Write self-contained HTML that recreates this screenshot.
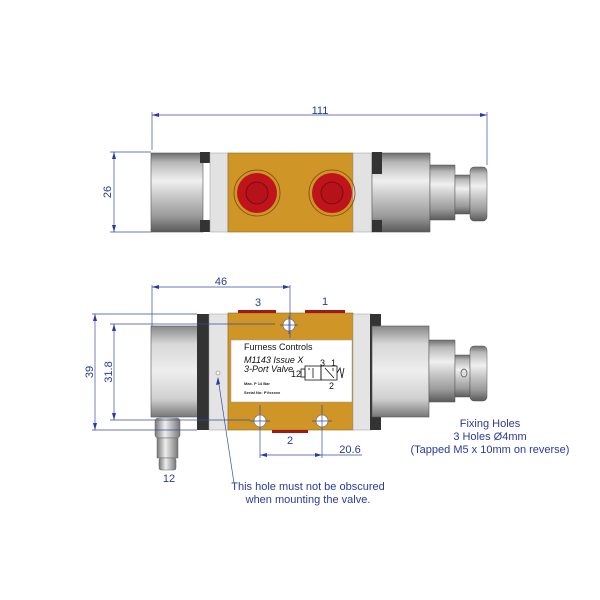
<!DOCTYPE html>
<html><head><meta charset="utf-8"><style>
html,body{margin:0;padding:0;background:#fff}
svg{display:block}
text{font-family:"Liberation Sans",sans-serif}
</style></head><body>
<svg width="600" height="600" viewBox="0 0 600 600" xmlns="http://www.w3.org/2000/svg">
<defs>
<linearGradient id="cyl" x1="0" y1="0" x2="0" y2="1">
<stop offset="0" stop-color="#6e6e6e"/><stop offset="0.12" stop-color="#b8b8b8"/><stop offset="0.35" stop-color="#f0f0f0"/><stop offset="0.55" stop-color="#c8c8c8"/><stop offset="0.8" stop-color="#9a9a9a"/><stop offset="1" stop-color="#5a5a5a"/>
</linearGradient>
<linearGradient id="lcyl" x1="0" y1="0" x2="0" y2="1">
<stop offset="0" stop-color="#888"/><stop offset="0.2" stop-color="#d8d8d8"/><stop offset="0.5" stop-color="#eeeeee"/><stop offset="0.8" stop-color="#d0d0d0"/><stop offset="1" stop-color="#777"/>
</linearGradient>
<linearGradient id="fit" x1="0" y1="0" x2="1" y2="0">
<stop offset="0" stop-color="#777"/><stop offset="0.4" stop-color="#eee"/><stop offset="1" stop-color="#777"/>
</linearGradient>
</defs>

<!-- TOP VIEW -->
<g>
<rect x="151" y="153" width="52" height="79" fill="url(#cyl)" stroke="#555" stroke-width="0.6"/>
<rect x="200" y="152" width="10" height="11" fill="#333"/>
<rect x="200" y="220" width="10" height="12" fill="#333"/>
<rect x="210" y="153" width="18" height="79" fill="#e2e2e2" stroke="#999" stroke-width="0.5"/>
<rect x="228" y="153" width="125" height="79" fill="#cf9526" stroke="#8a6a20" stroke-width="0.6"/>
<rect x="353" y="153" width="19" height="79" fill="#e2e2e2" stroke="#999" stroke-width="0.5"/>
<rect x="372" y="153" width="58" height="79" fill="url(#cyl)" stroke="#555" stroke-width="0.6"/>
<rect x="372" y="152" width="10" height="22" fill="#333"/>
<rect x="372" y="220" width="10" height="12" fill="#333"/>
<rect x="430" y="165" width="25" height="55" fill="url(#cyl)" stroke="#555" stroke-width="0.5"/>
<rect x="455" y="175" width="15" height="39" fill="url(#cyl)" stroke="#555" stroke-width="0.5"/>
<rect x="470" y="167" width="17" height="54" rx="4" fill="url(#cyl)" stroke="#555" stroke-width="0.5"/>
<circle cx="257" cy="193" r="23" fill="none" stroke="#7a4a10" stroke-width="0.8"/>
<circle cx="257" cy="193" r="20" fill="#c0141c"/>
<circle cx="257" cy="193" r="11" fill="#b5121a" stroke="#6a0a0a" stroke-width="0.8"/>
<circle cx="332" cy="193" r="23" fill="none" stroke="#7a4a10" stroke-width="0.8"/>
<circle cx="332" cy="193" r="20" fill="#c0141c"/>
<circle cx="332" cy="193" r="11" fill="#b5121a" stroke="#6a0a0a" stroke-width="0.8"/>
</g>
<!-- dims top -->
<g stroke="#3a4aa0" stroke-width="0.7" fill="none">
<line x1="152" y1="112" x2="152" y2="150"/>
<line x1="487" y1="112" x2="487" y2="165"/>
<line x1="152" y1="115" x2="487" y2="115"/>
<line x1="110" y1="152" x2="151" y2="152"/>
<line x1="110" y1="232" x2="151" y2="232"/>
<line x1="114" y1="152" x2="114" y2="232"/>
</g>
<g fill="#2a3aa0">
<polygon points="152,115 159,113 159,117"/><polygon points="487,115 480,113 480,117"/>
<polygon points="114,152 112,159 116,159"/><polygon points="114,232 112,225 116,225"/>
</g>
<text x="320" y="114" font-size="11" fill="#2a3a9a" text-anchor="middle">111</text>
<text x="0" y="0" font-size="11" fill="#2a3a9a" text-anchor="middle" transform="translate(111,192) rotate(-90)">26</text>

<!-- BOTTOM VIEW -->
<g>
<rect x="151" y="326" width="48" height="91" fill="url(#lcyl)" stroke="#555" stroke-width="0.6"/>
<rect x="197" y="314" width="12" height="116" fill="#333"/>
<rect x="209" y="314" width="19" height="116" fill="#e4e4e4" stroke="#999" stroke-width="0.5"/>
<rect x="228" y="313" width="125" height="117" fill="#cf9526" stroke="#8a6a20" stroke-width="0.6"/>
<rect x="238" y="310" width="38" height="3" fill="#a01818"/>
<rect x="305" y="310" width="40" height="3" fill="#a01818"/>
<rect x="272" y="430" width="36" height="3" fill="#a01818"/>
<rect x="231" y="340" width="121" height="62" fill="#fff" stroke="#999" stroke-width="0.5"/>
<rect x="353" y="314" width="19" height="116" fill="#e4e4e4" stroke="#999" stroke-width="0.5"/>
<rect x="370" y="314" width="11" height="116" fill="#333"/>
<rect x="372" y="326" width="57" height="91" fill="url(#lcyl)" stroke="#555" stroke-width="0.6"/>
<rect x="429" y="340" width="26" height="62" fill="url(#cyl)" stroke="#555" stroke-width="0.5"/>
<rect x="455" y="355" width="15" height="42" fill="url(#cyl)" stroke="#555" stroke-width="0.5"/>
<rect x="470" y="346" width="17" height="55" rx="4" fill="url(#cyl)" stroke="#555" stroke-width="0.5"/>
<ellipse cx="464" cy="373" rx="3" ry="4" fill="#ddd" stroke="#444" stroke-width="0.7"/>
<circle cx="289" cy="325" r="6" fill="#fff" stroke="#666" stroke-width="0.6"/>
<circle cx="260" cy="421" r="6" fill="#fff" stroke="#666" stroke-width="0.6"/>
<circle cx="322" cy="421" r="6" fill="#fff" stroke="#666" stroke-width="0.6"/>
<circle cx="218" cy="373" r="2" fill="#fff" stroke="#777" stroke-width="0.6"/>
<!-- fitting -->
<rect x="155" y="418" width="25" height="20" rx="3" fill="url(#fit)" stroke="#666" stroke-width="0.5"/>
<rect x="157" y="438" width="21" height="20" fill="url(#fit)" stroke="#666" stroke-width="0.5"/>
<rect x="159" y="458" width="17" height="12" rx="2" fill="url(#fit)" stroke="#666" stroke-width="0.5"/>
</g>
<!-- label text -->
<text x="244" y="350" font-size="9" fill="#111">Furness Controls</text>
<text x="244" y="363" font-size="9" font-style="italic" fill="#111">M1143 Issue X</text>
<text x="244" y="372" font-size="9" font-style="italic" fill="#111">3-Port Valve</text>
<text x="244" y="385" font-size="4" font-weight="bold" fill="#222">Max. P 14 Bar</text>
<text x="244" y="394" font-size="4" font-weight="bold" fill="#222">Serial No: PVxxxxx</text>
<g stroke="#111" stroke-width="0.8" fill="none">
<rect x="305" y="366" width="16" height="14"/><rect x="321" y="366" width="16" height="14"/>
<line x1="313" y1="368" x2="313" y2="378"/><line x1="325" y1="368" x2="334" y2="378"/>
<line x1="333" y1="368" x2="333" y2="371"/><line x1="309" y1="368" x2="309" y2="370"/>
<rect x="301" y="369" width="4" height="8"/>
<polyline points="337,373 340,368 342,378 344,368"/>
</g>
<text x="291" y="377" font-size="9" fill="#111">12</text>
<text x="320" y="366" font-size="9" fill="#111">3</text>
<text x="331" y="366" font-size="9" fill="#111">1</text>
<text x="329" y="389" font-size="9" fill="#111">2</text>

<!-- dims bottom -->
<g stroke="#3a4aa0" stroke-width="0.7" fill="none">
<line x1="152" y1="285" x2="152" y2="326"/>
<line x1="290" y1="285" x2="290" y2="338"/>
<line x1="152" y1="287" x2="290" y2="287"/>
<line x1="92" y1="314" x2="197" y2="314"/>
<line x1="92" y1="430" x2="197" y2="430"/>
<line x1="95" y1="314" x2="95" y2="430"/>
<line x1="110" y1="324" x2="275" y2="324"/>
<line x1="110" y1="420" x2="250" y2="420"/>
<line x1="114" y1="324" x2="114" y2="420"/>
<line x1="280" y1="325" x2="298" y2="325"/><line x1="289" y1="316" x2="289" y2="334"/>
<line x1="250" y1="421" x2="270" y2="421"/><line x1="312" y1="421" x2="332" y2="421"/>
<line x1="260" y1="405" x2="260" y2="458"/>
<line x1="322" y1="405" x2="322" y2="458"/>
<line x1="260" y1="455" x2="322" y2="455"/>
<line x1="322" y1="455" x2="362" y2="455"/>
<line x1="218" y1="378" x2="234" y2="483"/>
</g>
<g fill="#2a3aa0">
<polygon points="152,287 159,285 159,289"/><polygon points="290,287 283,285 283,289"/>
<polygon points="95,314 93,321 97,321"/><polygon points="95,430 93,423 97,423"/>
<polygon points="114,324 112,331 116,331"/><polygon points="114,420 112,413 116,413"/>
<polygon points="260,455 267,453 267,457"/><polygon points="322,455 315,453 315,457"/>
<polygon points="218,377 216,385 220,384"/>
</g>
<g fill="#2a3a9a" font-size="11">
<text x="221" y="285" text-anchor="middle">46</text>
<text x="258" y="306" text-anchor="middle">3</text>
<text x="325" y="305" text-anchor="middle">1</text>
<text x="290" y="444" text-anchor="middle">2</text>
<text x="350" y="453" text-anchor="middle">20.6</text>
<text x="169" y="482" text-anchor="middle">12</text>
<text text-anchor="middle" transform="translate(93,372) rotate(-90)">39</text>
<text text-anchor="middle" transform="translate(112,372) rotate(-90)">31.8</text>
<text x="308" y="490" text-anchor="middle">This hole must not be obscured</text>
<text x="308" y="503" text-anchor="middle">when mounting the valve.</text>
<text x="490" y="427" text-anchor="middle">Fixing Holes</text>
<text x="490" y="440" text-anchor="middle">3 Holes Ø4mm</text>
<text x="490" y="453" text-anchor="middle">(Tapped M5 x 10mm on reverse)</text>
</g>
</svg>
</body></html>
